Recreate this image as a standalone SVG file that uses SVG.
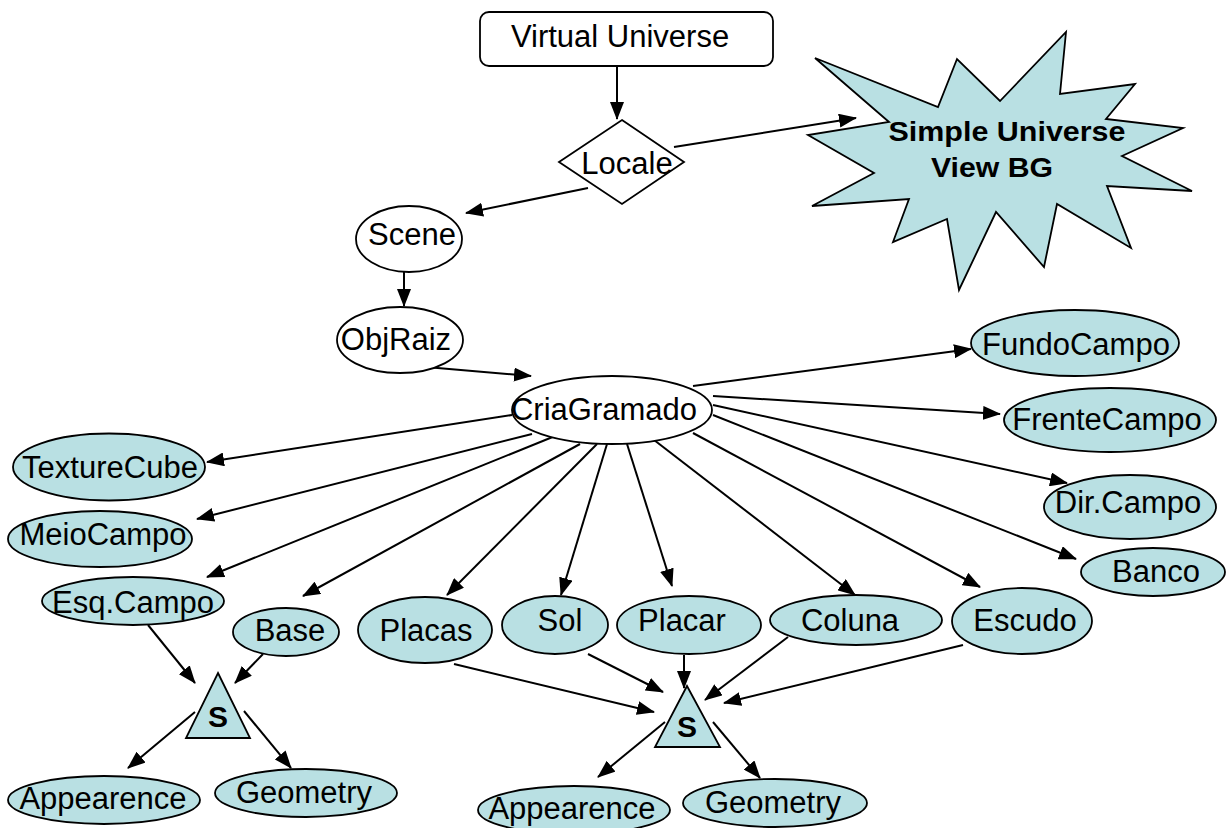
<svg xmlns="http://www.w3.org/2000/svg" width="1231" height="828" viewBox="0 0 1231 828">
  <defs>
    <marker id="arrow" markerUnits="userSpaceOnUse" markerWidth="18" markerHeight="14" refX="17" refY="7" orient="auto">
      <path d="M0,0 L18,7 L0,14 z" fill="#000"/>
    </marker>
    <style>
      .lbl { font-family: "Liberation Sans", Arial, sans-serif; font-size: 31px; fill: #000; text-anchor: middle; }
      .bold { font-family: "Liberation Sans", Arial, sans-serif; font-weight: bold; fill: #000; text-anchor: middle; }
      .plain { fill: #fff; stroke: #000; stroke-width: 1.8; }
      .blue { fill: #B9E0E3; stroke: #000; stroke-width: 1.8; }
      .conn line { stroke: #000; stroke-width: 2; marker-end: url(#arrow); }
    </style>
  </defs>
  <rect width="1231" height="828" fill="#fff"/>

  <!-- connectors -->
  <g id="connectors" class="conn">
    <line x1="617" y1="62" x2="617" y2="119"/>
    <line x1="674" y1="147" x2="856" y2="118"/>
    <line x1="588" y1="188" x2="466" y2="213"/>
    <line x1="404" y1="269" x2="404" y2="306"/>
    <line x1="426" y1="367" x2="531" y2="376"/>
    <line x1="693" y1="386" x2="971" y2="349"/>
    <line x1="713" y1="396" x2="1000" y2="414"/>
    <line x1="713" y1="405" x2="1067" y2="483"/>
    <line x1="713" y1="415" x2="1076" y2="559"/>
    <line x1="693" y1="433" x2="980" y2="587"/>
    <line x1="645" y1="433" x2="855" y2="595"/>
    <line x1="627" y1="444" x2="672" y2="586"/>
    <line x1="607" y1="444" x2="561" y2="595"/>
    <line x1="597" y1="444" x2="447" y2="595"/>
    <line x1="580" y1="444" x2="303" y2="596"/>
    <line x1="560" y1="434" x2="207" y2="577"/>
    <line x1="532" y1="434" x2="197" y2="519"/>
    <line x1="512" y1="415" x2="207" y2="462"/>
    <line x1="148" y1="625" x2="195" y2="683"/>
    <line x1="263" y1="654" x2="235" y2="683"/>
    <line x1="195" y1="712" x2="128" y2="768"/>
    <line x1="244" y1="711" x2="291" y2="768"/>
    <line x1="454" y1="664" x2="654" y2="712"/>
    <line x1="588" y1="654" x2="663" y2="692"/>
    <line x1="684" y1="655" x2="684" y2="688"/>
    <line x1="788" y1="637" x2="705" y2="700"/>
    <line x1="963" y1="645" x2="724" y2="703"/>
    <line x1="665" y1="722" x2="598" y2="777"/>
    <line x1="713" y1="722" x2="760" y2="778"/>
  </g>

  <g id="virtual-universe">
    <rect class="plain" x="480" y="12" width="293" height="54" rx="9"/>
    <text class="lbl" x="620" y="47">Virtual Universe</text>
  </g>

  <g id="locale">
    <polygon class="plain" points="622,120 684,162 622,204 559,162"/>
    <text class="lbl" x="627" y="174">Locale</text>
  </g>

  <g id="simple-universe">
    <polygon class="blue" points="815,58 938,107 957,59 1000,101 1066,32 1060,94 1135,84 1106,119 1183,128 1122,156 1192,191 1107,186 1131,248 1057,204 1044,267 996,212 959,290 947,219 893,242 909,199 812,206 874,173 808,135 889,122"/>
    <text class="bold" x="1007" y="141" font-size="28" textLength="237" lengthAdjust="spacingAndGlyphs">Simple Universe</text>
    <text class="bold" x="992" y="177" font-size="28" textLength="122" lengthAdjust="spacingAndGlyphs">View BG</text>
  </g>

  <g id="scene">
    <ellipse class="plain" cx="409" cy="239" rx="53" ry="33"/>
    <text class="lbl" x="412" y="245">Scene</text>
  </g>

  <g id="objraiz">
    <ellipse class="plain" cx="400" cy="340" rx="63" ry="33"/>
    <text class="lbl" x="396" y="350">ObjRaiz</text>
  </g>

  <g id="criagramado">
    <ellipse class="plain" cx="612" cy="410" rx="100" ry="34"/>
    <text class="lbl" x="604" y="420">CriaGramado</text>
  </g>

  <g id="fundocampo">
    <ellipse class="blue" cx="1075" cy="343" rx="104" ry="33"/>
    <text class="lbl" x="1076" y="355">FundoCampo</text>
  </g>

  <g id="frentecampo">
    <ellipse class="blue" cx="1110" cy="420" rx="106" ry="32"/>
    <text class="lbl" x="1107" y="430">FrenteCampo</text>
  </g>

  <g id="dircampo">
    <ellipse class="blue" cx="1130" cy="507" rx="86" ry="32"/>
    <text class="lbl" x="1128" y="513">Dir.Campo</text>
  </g>

  <g id="banco">
    <ellipse class="blue" cx="1153" cy="572" rx="72" ry="24"/>
    <text class="lbl" x="1156" y="582">Banco</text>
  </g>

  <g id="texturecube">
    <ellipse class="blue" cx="109" cy="467" rx="96" ry="33.5"/>
    <text class="lbl" x="110" y="478">TextureCube</text>
  </g>

  <g id="meiocampo">
    <ellipse class="blue" cx="100" cy="539" rx="92" ry="28"/>
    <text class="lbl" x="103" y="545">MeioCampo</text>
  </g>

  <g id="esqcampo">
    <ellipse class="blue" cx="133" cy="601" rx="91" ry="24"/>
    <text class="lbl" x="133" y="613">Esq.Campo</text>
  </g>

  <g id="base">
    <ellipse class="blue" cx="286" cy="632" rx="53" ry="24"/>
    <text class="lbl" x="290" y="641">Base</text>
  </g>

  <g id="placas">
    <ellipse class="blue" cx="425" cy="630" rx="67" ry="33"/>
    <text class="lbl" x="426" y="641">Placas</text>
  </g>

  <g id="sol">
    <ellipse class="blue" cx="555" cy="625" rx="53" ry="29"/>
    <text class="lbl" x="560" y="631">Sol</text>
  </g>

  <g id="placar">
    <ellipse class="blue" cx="689" cy="625" rx="72" ry="29"/>
    <text class="lbl" x="682" y="631">Placar</text>
  </g>

  <g id="coluna">
    <ellipse class="blue" cx="856" cy="620" rx="86" ry="25"/>
    <text class="lbl" x="850" y="631">Coluna</text>
  </g>

  <g id="escudo">
    <ellipse class="blue" cx="1022" cy="621" rx="70" ry="33"/>
    <text class="lbl" x="1025" y="631">Escudo</text>
  </g>

  <g id="shape-left">
    <polygon class="blue" points="218,673 250,738 186,738"/>
    <text class="bold" x="218" y="727" font-size="30">S</text>
  </g>

  <g id="appearence-left">
    <ellipse class="blue" cx="104" cy="800" rx="96" ry="24"/>
    <text class="lbl" x="103" y="809">Appearence</text>
  </g>

  <g id="geometry-left">
    <ellipse class="blue" cx="306" cy="793" rx="91" ry="24"/>
    <text class="lbl" x="304" y="803">Geometry</text>
  </g>

  <g id="shape-right">
    <polygon class="blue" points="687,686 720,747 655,747"/>
    <text class="bold" x="687" y="737" font-size="30">S</text>
  </g>

  <g id="appearence-right">
    <ellipse class="blue" cx="574" cy="810" rx="96" ry="24"/>
    <text class="lbl" x="572" y="819">Appearence</text>
  </g>

  <g id="geometry-right">
    <ellipse class="blue" cx="775" cy="803" rx="92" ry="24"/>
    <text class="lbl" x="773" y="813">Geometry</text>
  </g>
</svg>
